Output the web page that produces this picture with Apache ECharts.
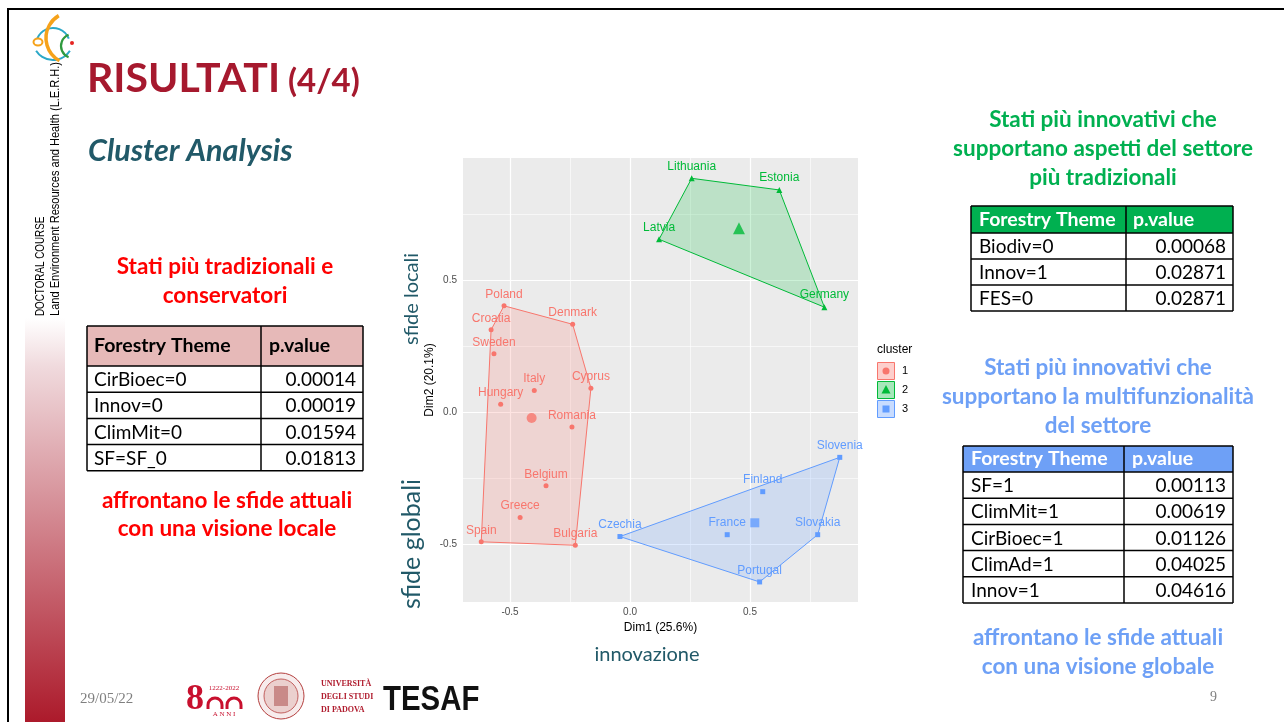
<!DOCTYPE html>
<html><head><meta charset="utf-8">
<script src="https://cdn.jsdelivr.net/npm/echarts@6/dist/echarts.min.js"></script>
<style>html,body{margin:0;padding:0;background:#fff;}#c{width:1284px;height:722px;}</style>
</head><body><div id="c"></div><script>
// ---- data ----
const clusterNames = ['1','2','3'];
const countries1 = ['Poland','Croatia','Sweden','Denmark','Cyprus','Italy','Hungary','Romania','Belgium','Greece','Spain','Bulgaria'];
const dim1C1 = [-0.525,-0.579,-0.567,-0.239,-0.163,-0.399,-0.539,-0.242,-0.350,-0.458,-0.620,-0.228];
const dim2C1 = [0.402,0.311,0.220,0.332,0.090,0.081,0.029,-0.057,-0.280,-0.400,-0.492,-0.505];
const countries2 = ['Lithuania','Estonia','Latvia','Germany'];
const dim1C2 = [0.257,0.622,0.121,0.810];
const dim2C2 = [0.885,0.841,0.654,0.397];
const countries3 = ['Czechia','Finland','France','Slovenia','Slovakia','Portugal'];
const dim1C3 = [-0.042,0.553,0.405,0.874,0.782,0.540];
const dim2C3 = [-0.472,-0.302,-0.465,-0.172,-0.465,-0.644];
const centroidDim1 = [-0.410,0.454,0.520];
const centroidDim2 = [-0.023,0.696,-0.420];
const hull1 = ['Spain','Croatia','Poland','Denmark','Cyprus','Bulgaria'];
const hull2 = ['Latvia','Lithuania','Estonia','Germany'];
const hull3 = ['Czechia','Slovenia','Slovakia','Portugal'];
const xTicks = [-0.5,0,0.5];
const yTicks = [-0.5,0,0.5];
const xMinorGrid = [-0.25,0.25,0.75];
const yMinorGrid = [-0.25,0.25,0.75];

const leftThemes = ['CirBioec=0','Innov=0','ClimMit=0','SF=SF_0'];
const leftP = ['0.00014','0.00019','0.01594','0.01813'];
const greenThemes = ['Biodiv=0','Innov=1','FES=0'];
const greenP = ['0.00068','0.02871','0.02871'];
const blueThemes = ['SF=1','ClimMit=1','CirBioec=1','ClimAd=1','Innov=1'];
const blueP = ['0.00113','0.00619','0.01126','0.04025','0.04616'];

// ---- styles ----
const COLS = ['#F8766D','#00BA38','#619CFF'];
const FILLS = ['rgba(248,118,109,0.2)','rgba(0,186,56,0.2)','rgba(97,156,255,0.2)'];
const LEGFILLS = ['rgba(248,118,109,0.35)','rgba(0,186,56,0.35)','rgba(97,156,255,0.35)'];
const SYMS = ['circle','triangle','rect'];
const SLIDE = 'Lato, "Open Sans", sans-serif';
const ARIAL = '"Liberation Sans", Arial, sans-serif';
const TEAL = '#215968';
const RED = '#FF0000', GREEN = '#00B050', BLUE = '#6EA0F6';
const HF = 'bold 22.5px ' + SLIDE;

const chart = echarts.init(document.getElementById('c'), null, {renderer:'canvas', width:1284, height:722});

function pts(names, xs, ys, hull){
  return hull.map(n => { const i = names.indexOf(n); return [xs[i], ys[i]]; });
}
function hullSeries(p, k){
  return {type:'custom', coordinateSystem:'cartesian2d', z:2, silent:true, clip:false,
    data:p, encode:{x:0,y:1},
    renderItem:(params, api) => {
      if (params.dataIndex !== 0) return null;
      return {type:'polygon', shape:{points:p.map(q => api.coord(q))},
        style:{fill:FILLS[k], stroke:COLS[k], lineWidth:1}};
    }};
}
function scatterSeries(names, xs, ys, k){
  return {type:'scatter', z:3, symbol:SYMS[k], symbolSize:k===1?6:5, silent:true,
    itemStyle:{color:COLS[k], opacity:1},
    data:names.map((n,i)=>({name:n, value:[xs[i], ys[i]]})),
    label:{show:true, formatter:'{b}', position:'top', distance:3, color:COLS[k],
      fontSize:12, fontFamily:ARIAL}};
}

const gridLines = [];
xTicks.forEach(v => gridLines.push({xAxis:v, lineStyle:{width:1.2}}));
yTicks.forEach(v => gridLines.push({yAxis:v, lineStyle:{width:1.2}}));
xMinorGrid.forEach(v => gridLines.push({xAxis:v, lineStyle:{width:0.6}}));
yMinorGrid.forEach(v => gridLines.push({yAxis:v, lineStyle:{width:0.6}}));

const series = [
  {type:'line', data:[], z:1, silent:true,
    markLine:{silent:true, z:1, symbol:'none', label:{show:false}, animation:false,
      lineStyle:{color:'#FFFFFF', type:'solid'}, emphasis:{disabled:true}, data:gridLines}},
  hullSeries(pts(countries1, dim1C1, dim2C1, hull1), 0),
  hullSeries(pts(countries2, dim1C2, dim2C2, hull2), 1),
  hullSeries(pts(countries3, dim1C3, dim2C3, hull3), 2),
  scatterSeries(countries1, dim1C1, dim2C1, 0),
  scatterSeries(countries2, dim1C2, dim2C2, 1),
  scatterSeries(countries3, dim1C3, dim2C3, 2),
  {type:'scatter', z:4, silent:true,
    data:clusterNames.map((c,k)=>({value:[centroidDim1[k], centroidDim2[k]], symbol:SYMS[k],
      symbolSize:[10,12,9][k], itemStyle:{color:COLS[k]}}))}
];

// ---- graphics ----
const g = [];
function txt(x, y, text, opt){
  g.push(Object.assign({type:'text', x, y, silent:true, style:Object.assign({text, textVerticalAlign:'middle'}, opt.style||{})}, opt.el||{}));
}
// borders
g.push({type:'rect', shape:{x:7, y:8, width:1290, height:2}, style:{fill:'#000'}});
g.push({type:'rect', shape:{x:7, y:8, width:2, height:720}, style:{fill:'#000'}});
// gradient bar
g.push({type:'rect', shape:{x:25, y:318, width:40, height:404},
  style:{fill:new echarts.graphic.LinearGradient(0,0,0,1,[{offset:0,color:'rgba(255,255,255,1)'},{offset:0.12,color:'#F0DADD'},{offset:1,color:'#AC1A2B'}])}});
// logo
g.push({type:'arc', shape:{cx:53, cy:45, r:17, startAngle:Math.PI*1.12, endAngle:Math.PI*1.88}, style:{stroke:'#2BA8C8', lineWidth:2, fill:'none'}});
g.push({type:'arc', shape:{cx:53, cy:40, r:20, startAngle:Math.PI*0.18, endAngle:Math.PI*0.82}, style:{stroke:'#2BA8C8', lineWidth:2, fill:'none'}});
g.push({type:'arc', shape:{cx:72, cy:38, r:26, startAngle:Math.PI*0.66, endAngle:Math.PI*1.33}, style:{stroke:'#F6A21A', lineWidth:3.5, fill:'none'}});
g.push({type:'arc', shape:{cx:73, cy:46, r:12, startAngle:Math.PI*0.62, endAngle:Math.PI*1.38}, style:{stroke:'#2E9A3E', lineWidth:2.2, fill:'none'}});
g.push({type:'circle', shape:{cx:72, cy:43, r:2}, style:{fill:'#E52421'}});
g.push({type:'ellipse', shape:{cx:38, cy:42, rx:4.5, ry:3.5}, style:{stroke:'#F6A21A', lineWidth:2, fill:'none'}});
// vertical text
g.push({type:'text', x:41, y:316, rotation:Math.PI/2, scaleX:0.82, silent:true,
  style:{text:'DOCTORAL COURSE', font:'12px '+ARIAL, fill:'#000', textAlign:'left', textVerticalAlign:'middle'}});
g.push({type:'text', x:56, y:316, rotation:Math.PI/2, scaleX:0.92, silent:true,
  style:{text:'Land Environment Resources and Health (L.E.R.H.)', font:'12px '+ARIAL, fill:'#000', textAlign:'left', textVerticalAlign:'middle'}});
// title
txt(87, 79, 'RISULTATI', {style:{font:'bold 41px '+SLIDE, fill:'#A6192E'}});
txt(288, 81, '(4/4)', {style:{font:'bold 33px '+SLIDE, fill:'#A6192E'}});
txt(88, 151, 'Cluster Analysis', {style:{font:'italic bold 30.5px '+SLIDE, fill:TEAL}});
// left texts
txt(225, 267, 'Stati più tradizionali e', {style:{font:HF, fill:RED, textAlign:'center'}});
txt(225, 296, 'conservatori', {style:{font:HF, fill:RED, textAlign:'center'}});
txt(227, 501, 'affrontano le sfide attuali', {style:{font:HF, fill:RED, textAlign:'center'}});
txt(227, 529, 'con una visione locale', {style:{font:HF, fill:RED, textAlign:'center'}});
// green texts
txt(1103, 120, 'Stati più innovativi che', {style:{font:HF, fill:GREEN, textAlign:'center'}});
txt(1103, 149, 'supportano aspetti del settore', {style:{font:HF, fill:GREEN, textAlign:'center'}});
txt(1103, 178, 'più tradizionali', {style:{font:HF, fill:GREEN, textAlign:'center'}});
// blue texts
txt(1098, 368, 'Stati più innovativi che', {style:{font:HF, fill:BLUE, textAlign:'center'}});
txt(1098, 397, 'supportano la multifunzionalità', {style:{font:HF, fill:BLUE, textAlign:'center'}});
txt(1098, 426, 'del settore', {style:{font:HF, fill:BLUE, textAlign:'center'}});
txt(1098, 638, 'affrontano le sfide attuali', {style:{font:HF, fill:BLUE, textAlign:'center'}});
txt(1098, 667, 'con una visione globale', {style:{font:HF, fill:BLUE, textAlign:'center'}});

// tables
function table(t){
  const n = t.themes.length;
  g.push({type:'rect', shape:{x:t.x0, y:t.y0, width:t.x1-t.x0, height:t.hh}, style:{fill:t.hfill}});
  txt(t.tx, t.y0+t.hh/2, 'Forestry Theme', {style:{font:'bold 19.5px '+SLIDE, fill:t.hcol}});
  txt(t.px, t.y0+t.hh/2, 'p.value', {style:{font:'bold 19.5px '+SLIDE, fill:t.hcol}});
  for (let i=0;i<n;i++){
    const y = t.y0+t.hh+i*t.rh;
    txt(t.tx, y+t.rh/2+1, t.themes[i], {style:{font:'19px '+SLIDE, fill:'#000'}});
    txt(t.vx, y+t.rh/2+1, t.pv[i], {style:{font:'19px '+SLIDE, fill:'#000', textAlign:'right'}});
  }
  const yb = t.y0+t.hh+n*t.rh;
  const lines = [[t.x0,t.y0,t.x1,t.y0]];
  for (let i=0;i<=n;i++){ const y=t.y0+t.hh+i*t.rh; lines.push([t.x0,y,t.x1,y]); }
  lines.push([t.x0,t.y0,t.x0,yb]); lines.push([t.xs,t.y0,t.xs,yb]); lines.push([t.x1,t.y0,t.x1,yb]);
  lines.forEach(l => g.push({type:'line', silent:true, shape:{x1:l[0],y1:l[1],x2:l[2],y2:l[3]}, style:{stroke:'#000', lineWidth:1.5}}));
}
table({x0:87, xs:261, x1:363, y0:326, hh:40, rh:26.2, hfill:'#E6B9B8', hcol:'#000', tx:94, px:269, vx:356, themes:leftThemes, pv:leftP});
table({x0:971, xs:1126, x1:1233, y0:206, hh:27, rh:26, hfill:'#00B050', hcol:'#FFF', tx:979, px:1133, vx:1226, themes:greenThemes, pv:greenP});
table({x0:963, xs:1124, x1:1233, y0:446, hh:26, rh:26.2, hfill:'#6EA0F6', hcol:'#FFF', tx:971, px:1132, vx:1226, themes:blueThemes, pv:blueP});

// chart side labels
g.push({type:'text', x:412, y:299, rotation:Math.PI/2, silent:true, style:{text:'sfide locali', font:'20px '+SLIDE, fill:TEAL, textAlign:'center', textVerticalAlign:'middle'}});
g.push({type:'text', x:412, y:544, rotation:Math.PI/2, silent:true, style:{text:'sfide globali', font:'25px '+SLIDE, fill:TEAL, textAlign:'center', textVerticalAlign:'middle'}});
txt(647, 655, 'innovazione', {style:{font:'20px '+SLIDE, fill:TEAL, textAlign:'center'}});

// legend
txt(877, 350, 'cluster', {style:{font:'12px '+ARIAL, fill:'#000'}});
clusterNames.forEach((c,k) => {
  const y = 362 + k*19;
  g.push({type:'rect', shape:{x:877.5, y:y+0.5, width:17, height:17}, style:{fill:LEGFILLS[k], stroke:COLS[k], lineWidth:1}});
  const cx = 886, cy = y+9;
  if (k===0) g.push({type:'circle', shape:{cx, cy, r:3.5}, style:{fill:COLS[k]}});
  if (k===1) g.push({type:'polygon', shape:{points:[[cx,cy-5],[cx-4.5,cy+3.5],[cx+4.5,cy+3.5]]}, style:{fill:COLS[k]}});
  if (k===2) g.push({type:'rect', shape:{x:cx-3.5, y:cy-3.5, width:7, height:7}, style:{fill:COLS[k]}});
  txt(902, cy, c, {style:{font:'11px '+ARIAL, fill:'#000'}});
});

// footer
txt(80, 699, '29/05/22', {style:{font:'15px "Liberation Serif", serif', fill:'#7F7F7F'}});
txt(1210, 697, '9', {style:{font:'14px "Liberation Serif", serif', fill:'#7F7F7F'}});
txt(186, 700, '8', {style:{font:'bold 36px "Liberation Serif", serif', fill:'#C8102E'}});
[215, 234].forEach(cx => {
  g.push({type:'arc', shape:{cx, cy:705, r:7, startAngle:Math.PI, endAngle:Math.PI*2}, style:{stroke:'#C8102E', lineWidth:3, fill:'none'}});
  g.push({type:'line', shape:{x1:cx-7, y1:705, x2:cx-7, y2:709}, style:{stroke:'#C8102E', lineWidth:3}});
  g.push({type:'line', shape:{x1:cx+7, y1:705, x2:cx+7, y2:709}, style:{stroke:'#C8102E', lineWidth:3}});
});
txt(224, 688, '1222-2022', {style:{font:'7px "Liberation Serif", serif', fill:'#C8102E', textAlign:'center'}});
txt(224, 714, 'A N N I', {style:{font:'7px "Liberation Serif", serif', fill:'#C8102E', textAlign:'center'}});
g.push({type:'circle', shape:{cx:281, cy:696, r:23}, style:{fill:'#F7ECEC', stroke:'#B5403F', lineWidth:1}});
g.push({type:'circle', shape:{cx:281, cy:696, r:17}, style:{fill:'#EBD0CE', stroke:'#B5403F', lineWidth:0.8}});
g.push({type:'rect', shape:{x:274, y:686, width:14, height:20}, style:{fill:'#C98A88'}});
txt(321, 684, 'UNIVERSITÀ', {style:{font:'bold 8px "Liberation Serif", serif', fill:'#B01C2E'}});
txt(321, 697, 'DEGLI STUDI', {style:{font:'bold 8px "Liberation Serif", serif', fill:'#B01C2E'}});
txt(321, 710, 'DI PADOVA', {style:{font:'bold 8px "Liberation Serif", serif', fill:'#B01C2E'}});
g.push({type:'text', x:383, y:700, scaleX:0.84, silent:true, style:{text:'TESAF', font:'bold 35px '+ARIAL, fill:'#111', textVerticalAlign:'middle'}});

const option = {
  animation:false,
  backgroundColor:'#FFFFFF',
  grid:{left:463, top:158, width:395, height:444, show:true, backgroundColor:'#EBEBEB', borderWidth:0},
  xAxis:{type:'value', min:-0.696, max:0.95,
    axisLine:{show:false}, splitLine:{show:false},
    axisTick:{show:true, length:3, customValues:xTicks, lineStyle:{color:'#333', width:1}},
    axisLabel:{customValues:xTicks, formatter:v=>v.toFixed(1), color:'#4D4D4D', fontSize:10, margin:5, fontFamily:ARIAL},
    name:'Dim1 (25.6%)', nameLocation:'middle', nameGap:17,
    nameTextStyle:{fontSize:12, color:'#000', fontFamily:ARIAL}},
  yAxis:{type:'value', min:-0.72, max:0.962,
    axisLine:{show:false}, splitLine:{show:false},
    axisTick:{show:true, length:3, customValues:yTicks, lineStyle:{color:'#333', width:1}},
    axisLabel:{customValues:yTicks, formatter:v=>v.toFixed(1), color:'#4D4D4D', fontSize:10, margin:6, fontFamily:ARIAL},
    name:'Dim2 (20.1%)', nameLocation:'middle', nameGap:27,
    nameTextStyle:{fontSize:12, color:'#000', fontFamily:ARIAL}},
  series,
  graphic:g
};
chart.setOption(option);
</script></body></html>
